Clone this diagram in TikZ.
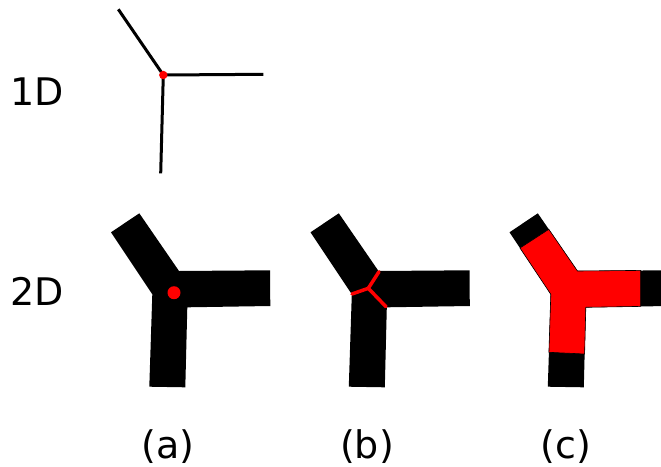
\documentclass[tikz,border=0pt]{standalone}
\usepackage{fontspec}
\setmainfont{DejaVu Sans}
\begin{document}
\begin{tikzpicture}[x=1pt,y=-1pt,
  lbl/.style={anchor=base,inner sep=0pt,font=\fontsize{38}{40}\selectfont},
  wire/.style={line width=3pt,black},
  redline/.style={line width=3.5pt,red,line cap=round,line join=round},
  redpart/.style={fill=red,draw=black,line width=0.6pt}]
\useasboundingbox (0,0) rectangle (661,466);
\clip (0,0) rectangle (661,466);
% labels
\node[lbl] (l1) at (37.5,105) {1D};
\node[lbl] (l2) at (37.5,305) {2D};
\node[lbl] (la) at (168,458) {(a)};
\node[lbl] (lb) at (367,458) {(b)};
\node[lbl] (lc) at (566,458) {(c)};
% 1D star
\coordinate (c1) at (163.3,75);
\coordinate (e1) at (118.3,9.3);
\coordinate (e2) at (263.3,74.3);
\coordinate (e3) at (160.7,173.3);
\draw[wire] (c1) -- (e1) (c1) -- (e2) (c1) -- (e3);
\fill[red] (c1) circle (4.2);
% 2D shape
\def\yshape{(111,232.3) -- (139.3,213.3) -- (179,271) -- (270,270.3) -- (270.3,306) -- (187.3,307.3) -- (185.3,387.3) -- (149.3,386.7) -- (152.3,294.3) -- cycle}
% (a)
\fill[black] \yshape;
\fill[red] (174,292.7) circle (6.5);
% (b)
\begin{scope}[xshift=199.5]
\fill[black] \yshape;
\coordinate (bc) at (168.8,288.3);
\draw[redline] (bc) -- (179.5,271.7);
\draw[redline] (bc) -- (186.5,306.7);
\draw[redline] (bc) -- (152.5,294);
\end{scope}
% (c)
\begin{scope}[xshift=398.5]
\fill[black] \yshape;
\end{scope}
\draw[redpart] (520,248) -- (548.8,229.3) -- (577.5,271) -- (640.7,270.4) -- (640.7,306.4) -- (585.8,307.3) -- (584.6,354) -- (548.9,352.3) -- (550.8,294.3) -- cycle;
\end{tikzpicture}
\end{document}
